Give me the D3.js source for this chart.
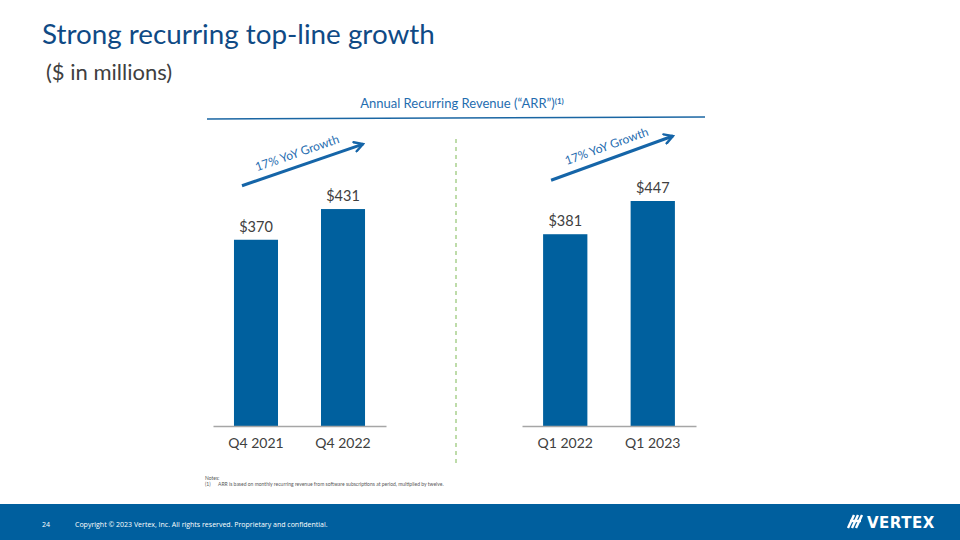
<!DOCTYPE html>
<html><head><meta charset="utf-8">
<script src="https://cdn.jsdelivr.net/npm/d3@7"></script>
<style>body{margin:0;background:#fff}svg{display:block}</style>
</head><body>
<svg id="c" width="960" height="540"></svg>
<script>
const leftCategories = ["Q4 2021", "Q4 2022"];
const leftValues = [370, 431];
const rightCategories = ["Q1 2022", "Q1 2023"];
const rightValues = [381, 447];
const growthLabels = ["17% YoY Growth", "17% YoY Growth"];
const valuePrefix = "$";

const svg = d3.select("#c");
const font = "Lato, 'Open Sans', sans-serif";
const barColor = "#00609e";
const darkBlue = "#0f4a85";
const textGray = "#404040";

// Title
svg.append("text").attr("x", 42).attr("y", 44).attr("font-family", font)
  .attr("font-size", 27.8).attr("fill", darkBlue).text("Strong recurring top-line growth");
svg.append("text").attr("x", 46).attr("y", 80).attr("font-family", font)
  .attr("font-size", 22).attr("fill", textGray).text("($ in millions)");

// Header
const hdr = svg.append("text").attr("x", 462).attr("y", 108).attr("text-anchor", "middle")
  .attr("font-family", font).attr("font-size", 13).attr("fill", "#1f6db0");
hdr.append("tspan").text("Annual Recurring Revenue (\u201CARR\u201D)");
hdr.append("tspan").attr("dy", -4).attr("font-size", 8).attr("font-weight", "bold").text("(1)");
svg.append("line").attr("x1", 207).attr("y1", 119).attr("x2", 705).attr("y2", 117)
  .attr("stroke", "#1a66a3").attr("stroke-width", 1.5);

// Divider
svg.append("line").attr("x1", 456).attr("x2", 456).attr("y1", 139).attr("y2", 463)
  .attr("stroke", "#a9d18e").attr("stroke-width", 1.5).attr("stroke-dasharray", "4,4");

const y = d3.scaleLinear().domain([0, 447]).range([426, 201]);

// arrow marker
const defs = svg.append("defs");
defs.append("marker").attr("id", "ah").attr("viewBox", "0 0 10 10").attr("refX", 8).attr("refY", 5)
  .attr("markerWidth", 4).attr("markerHeight", 4).attr("orient", "auto")
  .append("path").attr("d", "M1,1 L8,5 L1,9").attr("fill", "none")
  .attr("stroke", "#1565a8").attr("stroke-width", 2).attr("stroke-linecap", "round");

function panel(cats, vals, range, label) {
  const x = d3.scaleBand().domain(cats).range(range).paddingInner(0.494).paddingOuter(0.241);
  const g = svg.append("g");
  g.selectAll("rect.bar").data(vals).join("rect")
    .attr("x", (d, i) => x(cats[i])).attr("width", x.bandwidth())
    .attr("y", d => y(d)).attr("height", d => y(0) - y(d)).attr("fill", barColor);
  g.selectAll("text.val").data(vals).join("text")
    .attr("x", (d, i) => x(cats[i]) + x.bandwidth() / 2).attr("y", d => y(d) - 8)
    .attr("text-anchor", "middle").attr("font-family", font).attr("font-size", 14.5)
    .attr("fill", textGray).text(d => valuePrefix + d);
  const axis = d3.axisBottom(x).tickSize(0).tickPadding(12);
  const ag = g.append("g").attr("transform", `translate(0,${y(0)})`).call(axis);
  ag.select(".domain").attr("stroke", "#a6a6a6").attr("stroke-width", 1.5);
  ag.selectAll("text").attr("font-family", font).attr("font-size", 14).attr("fill", textGray);
  // growth arrow
  const x1 = x(cats[0]) + 8, y1 = y(vals[0]) - 54;
  const x2 = x(cats[1]) + x.bandwidth() - 2, y2 = y(vals[1]) - 65;
  g.append("line").attr("x1", x1).attr("y1", y1).attr("x2", x2).attr("y2", y2)
    .attr("stroke", "#1565a8").attr("stroke-width", 3).attr("marker-end", "url(#ah)");
  const ang = Math.atan2(y2 - y1, x2 - x1) * 180 / Math.PI;
  const mx = (x1 + x2) / 2, my = (y1 + y2) / 2;
  g.append("text").attr("transform", `translate(${mx - 4},${my - 8}) rotate(${ang})`)
    .attr("text-anchor", "middle").attr("font-family", font).attr("font-size", 12)
    .attr("fill", "#1f6db0").text(label);
}
panel(leftCategories, leftValues, [213, 386], growthLabels[0]);
panel(rightCategories, rightValues, [522, 696], growthLabels[1]);

// Notes
svg.append("text").attr("x", 205).attr("y", 480).attr("font-family", font).attr("font-size", 5)
  .attr("fill", "#595959").text("Notes:");
svg.append("text").attr("x", 205).attr("y", 486).attr("font-family", font).attr("font-size", 5)
  .attr("fill", "#595959").text("(1)");
svg.append("text").attr("x", 218).attr("y", 486).attr("font-family", font).attr("font-size", 5)
  .attr("fill", "#595959").text("ARR is based on monthly recurring revenue from software subscriptions at period, multiplied by twelve.");

// Footer
svg.append("rect").attr("x", 0).attr("y", 504).attr("width", 960).attr("height", 36).attr("fill", "#005f9e");
svg.append("text").attr("x", 42).attr("y", 527).attr("font-family", "'Open Sans', sans-serif").attr("font-size", 7)
  .attr("fill", "#fff").text("24");
svg.append("text").attr("x", 75).attr("y", 527).attr("font-family", "'Open Sans', sans-serif").attr("font-size", 7)
  .attr("fill", "#fff").text("Copyright \u00A9 2023 Vertex, Inc. All rights reserved. Proprietary and confidential.");
// logo mark
const lg = svg.append("g").attr("stroke", "#fff").attr("stroke-width", 2.4);
[[848,528,854,515],[852,528,858,515],[856,528,862,515],[850,521,861,521]].forEach(s=>{
  lg.append("line").attr("x1", s[0]).attr("y1", s[1]).attr("x2", s[2]).attr("y2", s[3]);
});
svg.append("text").attr("x", 867).attr("y", 528).attr("font-family", "'DejaVu Sans', sans-serif")
  .attr("font-size", 15).attr("font-weight", "bold").attr("fill", "#fff").attr("letter-spacing", 0.5).text("VERTEX");
</script>
</body></html>
